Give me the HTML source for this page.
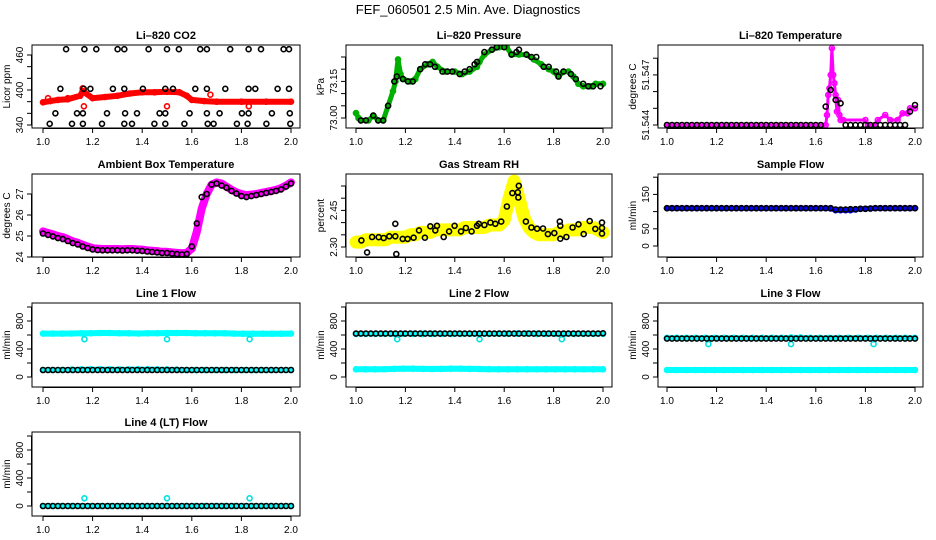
<!DOCTYPE html>
<html><head><meta charset="utf-8"><title>FEF_060501 Diagnostics</title>
<style>
html,body{margin:0;padding:0;background:#fff;}
svg{display:block;font-family:"Liberation Sans",Arial,sans-serif;}
</style></head>
<body>
<svg id="chart" width="936" height="540" viewBox="0 0 936 540" xmlns="http://www.w3.org/2000/svg">
<rect width="936" height="540" fill="#fff"/>
<text x="468" y="14" text-anchor="middle" font-size="13">FEF_060501  2.5 Min. Ave. Diagnostics</text>
</svg>
<script>
// ---------- shared axis data ----------
const xTicks = [1.0, 1.2, 1.4, 1.6, 1.8, 2.0];
const xTickLabels = ["1.0", "1.2", "1.4", "1.6", "1.8", "2.0"];

// ---------- Li-820 CO2 ----------
const co2RedT = [1.0,1.03,1.06,1.1,1.15,1.16,1.2,1.25,1.3,1.35,1.4,1.45,1.5,1.55,1.58,1.6,1.65,1.7,1.8,1.9,2.0];
const co2RedV = [379,381,383,384,390,398,386,388,390,394,396,396,397,396,390,383,381,380,380,380,380];
const co2RedOutT = [1.02,1.1,1.16,1.165,1.5,1.675,1.83];
const co2RedOutV = [386,386,403,372,372,392,372];
const co2BlackT = [1.093,1.167,1.215,1.301,1.328,1.426,1.5,1.548,1.634,1.661,1.755,1.829,1.879,1.970,1.992,
 1.07,1.164,1.191,1.282,1.328,1.403,1.493,1.524,1.614,1.661,1.735,1.829,1.856,1.946,1.992,
 1.05,1.137,1.161,1.258,1.331,1.379,1.470,1.493,1.591,1.661,1.712,1.802,1.829,1.923,1.995,
 1.027,1.117,1.161,1.238,1.328,1.359,1.449,1.493,1.570,1.664,1.688,1.782,1.825,1.901,1.997];
const co2BlackV = [470,470,470,470,470,470,470,470,470,470,470,470,470,470,470,
 402,402,402,402,402,402,402,402,402,402,402,402,402,402,402,
 360,360,360,360,360,360,360,360,360,360,360,360,360,360,360,
 342,342,342,342,342,342,342,342,342,342,342,342,342,342,342];

// ---------- Li-820 Pressure ----------
const presGreenT = [1.0,1.01,1.02,1.05,1.07,1.09,1.11,1.13,1.15,1.16,1.17,1.18,1.19,1.22,1.24,1.26,1.29,1.31,1.33,1.36,1.40,1.43,1.46,1.49,1.50,1.52,1.55,1.58,1.61,1.63,1.66,1.69,1.72,1.75,1.78,1.80,1.82,1.84,1.86,1.88,1.90,1.92,1.95,1.97,2.0];
const presGreenV = [73.02,73.00,72.99,72.99,73.01,72.99,72.99,73.05,73.11,73.15,73.24,73.18,73.16,73.15,73.16,73.20,73.22,73.23,73.21,73.19,73.19,73.18,73.19,73.21,73.23,73.26,73.28,73.29,73.29,73.26,73.26,73.26,73.24,73.22,73.20,73.19,73.17,73.19,73.19,73.17,73.14,73.13,73.13,73.14,73.14];
const presBlackT = [1.02,1.04,1.07,1.09,1.11,1.13,1.155,1.165,1.19,1.21,1.23,1.26,1.28,1.30,1.32,1.35,1.37,1.39,1.42,1.44,1.46,1.48,1.49,1.52,1.55,1.57,1.60,1.63,1.65,1.66,1.69,1.71,1.73,1.76,1.78,1.81,1.82,1.84,1.87,1.89,1.92,1.94,1.96,1.99];
const presBlackV = [72.99,72.99,73.01,72.99,72.99,73.05,73.15,73.17,73.16,73.15,73.15,73.20,73.22,73.22,73.21,73.19,73.19,73.19,73.18,73.19,73.20,73.22,73.23,73.27,73.28,73.29,73.29,73.26,73.27,73.28,73.26,73.25,73.25,73.21,73.21,73.19,73.17,73.19,73.18,73.16,73.14,73.13,73.13,73.13];

// ---------- Li-820 Temperature ----------
const tempMagT = [1.0,1.64,1.645,1.65,1.655,1.66,1.665,1.67,1.675,1.68,1.685,1.69,1.695,1.70,1.71,1.80,1.81,1.84,1.85,1.88,1.9,1.93,1.95,1.97,1.98,2.0];
const tempMagV = [51.544,51.544,51.5446,51.5458,51.5462,51.547,51.5486,51.547,51.5465,51.5458,51.5448,51.5455,51.5446,51.5443,51.5443,51.5443,51.544,51.544,51.5443,51.5446,51.5443,51.5443,51.5447,51.5447,51.545,51.545];
const tempBlackV = [51.544,51.544,51.544,51.544,51.544,51.544,51.544,51.544,51.544,51.544,51.544,51.544,51.544,51.544,51.544,51.544,51.544,51.544,51.544,51.544,51.544,51.544,51.544,51.544,51.544,51.544,51.544,51.544,51.544,51.544,51.544,51.544,51.5451,51.5461,51.5455,51.5453,51.544,51.544,51.544,51.544,51.544,51.544,51.544,51.544,51.544,51.544,51.544,51.544,51.544,51.5448,51.5452];

// ---------- Ambient Box Temperature ----------
const ambMagV = [25.22,25.15,25.08,25.0,24.95,24.85,24.75,24.68,24.58,24.5,24.42,24.4,24.38,24.38,24.38,24.38,24.37,24.38,24.38,24.36,24.35,24.32,24.3,24.28,24.25,24.25,24.22,24.2,24.18,24.2,24.4,25.2,26.3,27.0,27.45,27.55,27.5,27.35,27.2,27.08,27.0,26.95,26.97,27.0,27.05,27.1,27.15,27.2,27.28,27.4,27.55];
const ambBlackV = [25.12,25.05,24.98,24.9,24.85,24.76,24.66,24.6,24.5,24.43,24.36,24.33,24.32,24.32,24.32,24.32,24.31,24.32,24.32,24.3,24.29,24.26,24.24,24.22,24.19,24.19,24.16,24.14,24.12,24.15,24.5,25.6,26.85,27.0,27.45,27.5,27.4,27.3,27.15,27.02,26.9,26.85,26.9,26.95,27.0,27.05,27.1,27.15,27.22,27.35,27.5];

// ---------- Gas Stream RH ----------
const rhYellowV = [2.32,2.32,2.33,2.33,2.33,2.33,2.33,2.34,2.34,2.34,2.34,2.35,2.35,2.36,2.36,2.36,2.37,2.37,2.37,2.37,2.37,2.37,2.38,2.38,2.38,2.38,2.38,2.39,2.39,2.39,2.41,2.50,2.57,2.50,2.42,2.38,2.36,2.35,2.35,2.35,2.35,2.36,2.36,2.37,2.37,2.37,2.38,2.38,2.38,2.37,2.36];
const rhBlackT = [1.022,1.045,1.065,1.092,1.112,1.135,1.159,1.159,1.163,1.189,1.209,1.233,1.255,1.279,1.301,1.321,1.328,1.355,1.377,1.399,1.425,1.445,1.468,1.49,1.497,1.52,1.544,1.564,1.588,1.611,1.633,1.655,1.659,1.657,1.688,1.71,1.733,1.757,1.777,1.803,1.825,1.827,1.827,1.852,1.877,1.901,1.922,1.946,1.969,1.996,1.996,1.996];
const rhBlackV = [2.327,2.278,2.341,2.34,2.337,2.344,2.344,2.395,2.271,2.333,2.333,2.338,2.368,2.338,2.385,2.368,2.387,2.341,2.364,2.387,2.364,2.378,2.364,2.387,2.395,2.39,2.40,2.395,2.404,2.466,2.521,2.524,2.551,2.503,2.404,2.38,2.375,2.376,2.353,2.357,2.404,2.387,2.334,2.341,2.38,2.393,2.353,2.406,2.374,2.40,2.378,2.355];

// ---------- Sample Flow ----------
const sampBlueV = [110,110,110,110,110,110,110,110,110,110,110,110,110,110,110,110,110,110,110,110,110,110,110,110,110,110,110,110,110,110,110,110,110,109,104,104,104,104,106,108,108,109,110,110,110,110,110,110,110,110,110];
const sampBlackV = [110,110,110,110,110,110,110,110,110,110,110,110,110,110,110,110,110,110,110,110,110,110,110,110,110,110,110,110,110,110,110,110,110,110,106,106,106,107,107,108,108,109,110,110,110,110,110,110,110,110,110];

// ---------- Line flows ----------
const l1CyanHighV = [620,620,620,622,624,626,628,628,626,624,622,624,626,628,628,628,626,626,624,624,620,618,618,618,618,618,620];
const l1CyanLowV = [100,100,100,105,110,112,112,110,108,110,112,112,110,108,105,100,100,100,100,100,100,100,100,100,100,100,100];
const l1BlackV = [100,100,100,100,100,100,100,100,100,100,100,100,100,100,100,100,100,100,100,100,100,100,100,100,100,100,100,100,100,100,100,100,100,100,100,100,100,100,100,100,100,100,100,100,100,100,100,100,100,100,100];
const l2CyanHighV = [615,615,615,615,615,615,615,615,615,615,615,615,615,615,615,618,618,620,620,615,615,615,615,615,615,615,615];
const l2CyanLowV = [110,110,110,112,115,118,118,116,114,116,118,118,116,114,112,110,110,110,110,110,110,110,110,110,110,110,110];
const l2BlackV = [620,620,620,620,620,620,620,620,620,620,620,620,620,620,620,620,620,620,620,620,620,620,620,620,620,620,620,620,620,620,620,620,620,620,620,620,620,620,620,620,620,620,620,620,620,620,620,620,620,620,625];
const l3CyanHighV = [560,560,560,560,560,560,560,560,560,560,560,560,560,565,565,560,560,560,560,560,560,560,560,560,560,560,560];
const l3CyanLowV = [100,100,100,100,100,100,100,100,100,100,100,100,100,100,100,100,100,100,100,100,100,100,100,100,100,100,100];
const l3BlackV = [548,548,548,548,548,548,548,548,548,548,548,548,548,548,548,548,548,548,548,548,548,548,548,548,548,548,548,548,548,548,548,548,548,548,548,548,548,548,548,548,548,548,548,548,548,548,548,548,548,548,548];
const l4CyanV = [0,0,0,0,0,0,0,0,0,0,0,0,0,0,0,0,0,0,0,0,0,0,0,0,0,0,0];
const l4BlackV = [0,0,0,0,0,0,0,0,0,0,0,0,0,0,0,0,0,0,0,0,0,0,0,0,0,0,0,0,0,0,0,0,0,0,0,0,0,0,0,0,0,0,0,0,0,0,0,0,0,0,0];
const flowOutT = [1.167, 1.5, 1.833];
const l1OutV = [540, 540, 540];
const l2OutV = [540, 540, 540];
const l3OutV = [470, 470, 470];
const l4OutV = [110, 110, 110];

// ---------- tick arrays ----------
const co2Ticks = [340,360,380,400,420,440,460];
const co2TickLabels = ["340","","","400","","","460"];
const presTicks = [73.00,73.05,73.10,73.15,73.20,73.25];
const presTickLabels = ["73.00","","","73.15","",""];
const tempTicks = [51.544,51.545,51.546,51.547,51.548];
const tempTickLabels = ["51.544","","","51.547",""];
const ambTicks = [24,25,26,27];
const ambTickLabels = ["24","25","26","27"];
const rhTicks = [2.30,2.35,2.40,2.45,2.50,2.55];
const rhTickLabels = ["2.30","","","2.45","",""];
const sampTicks = [0,50,100,150,200];
const sampTickLabels = ["0","50","","150",""];
const flowTicks = [0,200,400,600,800,1000];
const flowTickLabels = ["0","","400","","800",""];

const NS = "http://www.w3.org/2000/svg";
const svg = document.getElementById("chart");
function mk(parent, tag, attrs, txt){
  const e = document.createElementNS(NS, tag);
  for (const k in attrs) e.setAttribute(k, attrs[k]);
  if (txt !== undefined) e.textContent = txt;
  parent.appendChild(e);
  return e;
}
function idxT(arr){ return arr.map((_, i) => 1 + i / (arr.length - 1)); }

function panel(key, cfg){
  const g = mk(svg, "g", {});
  
  
  const L = cfg.box[0], T = cfg.box[1], R = cfg.box[2], B = cfg.box[3];
  const sx = t => cfg.x0 + (t - 1) * (cfg.x1 - cfg.x0);
  const sy = v => cfg.yp0 - (v - cfg.yv0) * cfg.yk;
  const title = mk(g, "text", {x: (L + R) / 2, y: T - 6, "text-anchor": "middle", "font-size": 11, "font-weight": "bold"}, cfg.title);
  
  
  const clipId = "clip-" + key;
  const cp = mk(g, "clipPath", {id: clipId});
  mk(cp, "rect", {x: L, y: T, width: R - L, height: B - T});
  const plot = mk(g, "g", {"clip-path": "url(#" + clipId + ")"});
  
  
  cfg.series.forEach(s => {
    const ts = s.t || idxT(s.v);
    const sg = mk(plot, "g", {});
    
    
    if (s.band){
      const pts = s.v.map((v, i) => sx(ts[i]).toFixed(1) + "," + sy(v).toFixed(1)).join(" ");
      const pl = mk(sg, "polyline", {points: pts, fill: "none", stroke: s.color, "stroke-width": s.band, "stroke-linejoin": "round", "stroke-linecap": "round"});
      
      
    }
    s.v.forEach((v, i) => {
      const c = mk(sg, "circle", {cx: sx(ts[i]).toFixed(1), cy: sy(v).toFixed(1), r: s.r || 2.5, fill: "none", stroke: s.color, "stroke-width": s.sw || 1.6});
      
      
    });
  });
  const box = mk(g, "rect", {x: L, y: T, width: R - L, height: B - T, fill: "none", stroke: "#000", "stroke-width": 1});
  
  
  const xa = mk(g, "g", {});
  
  
  mk(xa, "line", {x1: sx(xTicks[0]), x2: sx(xTicks[xTicks.length - 1]), y1: B + 0.5, y2: B + 0.5, stroke: "#000"});
  xTicks.forEach((t, i) => {
    mk(xa, "line", {x1: sx(t), x2: sx(t), y1: B, y2: B + 5, stroke: "#000"});
    const lb = mk(xa, "text", {x: sx(t), y: B + 17, "text-anchor": "middle", "font-size": 10}, xTickLabels[i]);
    
    
  });
  const ya = mk(g, "g", {});
  
  
  mk(ya, "line", {x1: L - 0.5, x2: L - 0.5, y1: sy(cfg.yTicks[0]), y2: sy(cfg.yTicks[cfg.yTicks.length - 1]), stroke: "#000"});
  cfg.yTicks.forEach((v, i) => {
    mk(ya, "line", {x1: L - 5, x2: L, y1: sy(v), y2: sy(v), stroke: "#000"});
    if (cfg.yLabels[i]){
      const y = sy(v);
      const lb = mk(ya, "text", {x: L - 9, y: y, "text-anchor": "middle", "font-size": 10, transform: "rotate(-90 " + (L - 9) + " " + y + ")"}, cfg.yLabels[i]);
      
      
    }
  });
  const yc = (T + B) / 2, yx = L - 22;
  const yt = mk(g, "text", {x: yx, y: yc, "text-anchor": "middle", "font-size": 10, transform: "rotate(-90 " + yx + " " + yc + ")"}, cfg.ylab);
  
  
}

const C1 = {x0: 43, x1: 291, L: 32, R: 300};
const C2 = {x0: 356, x1: 603, L: 346, R: 612};
const C3 = {x0: 667, x1: 915, L: 658, R: 923};
const R1 = [45, 128], R2 = [174, 257], R3 = [303, 387], R4 = [432, 516];
const flowK = 0.07;

panel("co2", {box: [C1.L, R1[0], C1.R, R1[1]], x0: C1.x0, x1: C1.x1, yv0: 340, yp0: 125, yk: 0.5833,
  yTicks: co2Ticks, yLabels: co2TickLabels, title: "Li\u2013820 CO2", ylab: "Licor ppm",
  series: [
    {name: "red-series", t: co2RedT, v: co2RedV, color: "#ff0000", band: 6},
    {name: "red-outliers", t: co2RedOutT, v: co2RedOutV, color: "#ff0000"},
    {name: "black-series", t: co2BlackT, v: co2BlackV, color: "#000"}]});
panel("pressure", {box: [C2.L, R1[0], C2.R, R1[1]], x0: C2.x0, x1: C2.x1, yv0: 73.00, yp0: 118, yk: 244,
  yTicks: presTicks, yLabels: presTickLabels, title: "Li\u2013820 Pressure", ylab: "kPa",
  series: [
    {name: "green-series", t: presGreenT, v: presGreenV, color: "#00b000", band: 5},
    {name: "black-series", t: presBlackT, v: presBlackV, color: "#000"}]});
panel("temperature", {box: [C3.L, R1[0], C3.R, R1[1]], x0: C3.x0, x1: C3.x1, yv0: 51.544, yp0: 125, yk: 16700,
  yTicks: tempTicks, yLabels: tempTickLabels, title: "Li\u2013820 Temperature", ylab: "degrees C",
  series: [
    {name: "magenta-series", t: tempMagT, v: tempMagV, color: "#ff00ff", band: 3},
    {name: "black-series", v: tempBlackV, color: "#000"}]});
panel("ambient", {box: [C1.L, R2[0], C1.R, R2[1]], x0: C1.x0, x1: C1.x1, yv0: 24, yp0: 257, yk: 21,
  yTicks: ambTicks, yLabels: ambTickLabels, title: "Ambient Box Temperature", ylab: "degrees C",
  series: [
    {name: "magenta-series", v: ambMagV, color: "#ff00ff", band: 8},
    {name: "black-series", v: ambBlackV, color: "#000"}]});
panel("rh", {box: [C2.L, R2[0], C2.R, R2[1]], x0: C2.x0, x1: C2.x1, yv0: 2.30, yp0: 247, yk: 244,
  yTicks: rhTicks, yLabels: rhTickLabels, title: "Gas Stream RH", ylab: "percent",
  series: [
    {name: "yellow-series", v: rhYellowV, color: "#ffff00", band: 13},
    {name: "black-series", t: rhBlackT, v: rhBlackV, color: "#000"}]});
panel("sample-flow", {box: [C3.L, R2[0], C3.R, R2[1]], x0: C3.x0, x1: C3.x1, yv0: 0, yp0: 246, yk: 0.344,
  yTicks: sampTicks, yLabels: sampTickLabels, title: "Sample Flow", ylab: "ml/min",
  series: [
    {name: "blue-series", v: sampBlueV, color: "#0000ff", band: 5},
    {name: "black-series", v: sampBlackV, color: "#000"}]});
panel("line1", {box: [C1.L, R3[0], C1.R, R3[1]], x0: C1.x0, x1: C1.x1, yv0: 0, yp0: 377, yk: flowK,
  yTicks: flowTicks, yLabels: flowTickLabels, title: "Line 1 Flow", ylab: "ml/min",
  series: [
    {name: "cyan-high", v: l1CyanHighV, color: "#00ffff", band: 6},
    {name: "cyan-low", v: l1CyanLowV, color: "#00ffff", band: 5},
    {name: "cyan-outliers", t: flowOutT, v: l1OutV, color: "#00e0e0"},
    {name: "black-series", v: l1BlackV, color: "#000"}]});
panel("line2", {box: [C2.L, R3[0], C2.R, R3[1]], x0: C2.x0, x1: C2.x1, yv0: 0, yp0: 377, yk: flowK,
  yTicks: flowTicks, yLabels: flowTickLabels, title: "Line 2 Flow", ylab: "ml/min",
  series: [
    {name: "cyan-high", v: l2CyanHighV, color: "#00ffff", band: 5},
    {name: "cyan-low", v: l2CyanLowV, color: "#00ffff", band: 6},
    {name: "cyan-outliers", t: flowOutT, v: l2OutV, color: "#00e0e0"},
    {name: "black-series", v: l2BlackV, color: "#000"}]});
panel("line3", {box: [C3.L, R3[0], C3.R, R3[1]], x0: C3.x0, x1: C3.x1, yv0: 0, yp0: 377, yk: flowK,
  yTicks: flowTicks, yLabels: flowTickLabels, title: "Line 3 Flow", ylab: "ml/min",
  series: [
    {name: "cyan-high", v: l3CyanHighV, color: "#00ffff", band: 5},
    {name: "cyan-low", v: l3CyanLowV, color: "#00ffff", band: 6},
    {name: "cyan-outliers", t: flowOutT, v: l3OutV, color: "#00e0e0"},
    {name: "black-series", v: l3BlackV, color: "#000"}]});
panel("line4", {box: [C1.L, R4[0], C1.R, R4[1]], x0: C1.x0, x1: C1.x1, yv0: 0, yp0: 506, yk: flowK,
  yTicks: flowTicks, yLabels: flowTickLabels, title: "Line 4 (LT) Flow", ylab: "ml/min",
  series: [
    {name: "cyan-series", v: l4CyanV, color: "#00ffff", band: 5},
    {name: "cyan-outliers", t: flowOutT, v: l4OutV, color: "#00e0e0"},
    {name: "black-series", v: l4BlackV, color: "#000"}]});
</script>
</body></html>
